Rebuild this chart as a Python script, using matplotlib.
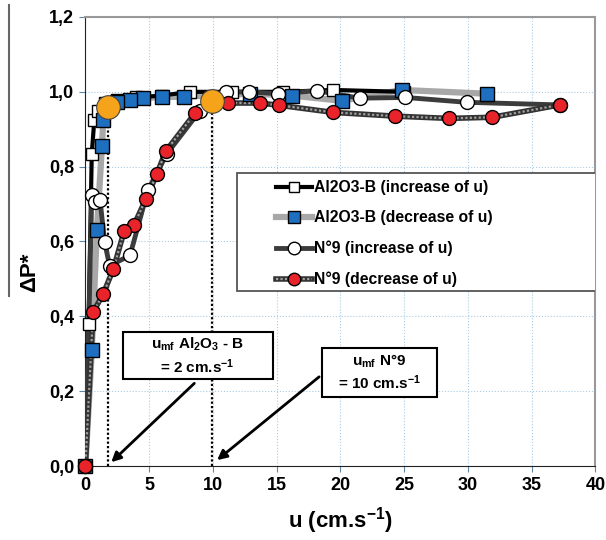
import matplotlib
matplotlib.use('Agg')
import matplotlib.pyplot as plt
from matplotlib.lines import Line2D
from matplotlib.patches import Rectangle
from matplotlib.legend_handler import HandlerTuple
from matplotlib.ticker import MultipleLocator, FuncFormatter

plt.rcParams['font.family'] = ['Liberation Sans', 'DejaVu Sans']
plt.rcParams['font.weight'] = 'bold'
plt.rcParams['mathtext.fontset'] = 'custom'
plt.rcParams['mathtext.rm'] = 'Liberation Sans:bold'
plt.rcParams['mathtext.it'] = 'Liberation Sans:bold'
plt.rcParams['mathtext.bf'] = 'Liberation Sans:bold'

# Al2O3-B, increase of u
al_inc_u = [0, 0.25, 0.5, 0.7, 1.0, 1.5, 2.5, 4.0, 6.0, 8.2, 11.5, 15.5, 19.4, 25.0]
al_inc_p = [0, 0.38, 0.835, 0.925, 0.95, 0.97, 0.978, 0.985, 0.99, 1.0, 1.0, 1.0, 1.005, 1.0]
# Al2O3-B, decrease of u
al_dec_u = [31.5, 24.8, 20.1, 16.2, 12.9, 7.7, 6.0, 4.5, 3.5, 2.45, 1.4, 1.3, 0.9, 0.5, 0]
al_dec_p = [0.995, 1.005, 0.976, 0.99, 0.995, 0.987, 0.986, 0.983, 0.978, 0.974, 0.925, 0.856, 0.63, 0.31, 0]
# N9, increase of u
n9_inc_u = [0, 0.5, 0.75, 1.15, 1.5, 1.9, 3.5, 4.9, 6.4, 9.0, 11.0, 12.8, 15.1, 18.2, 21.5, 25.1, 29.9, 37.2]
n9_inc_p = [0, 0.723, 0.705, 0.71, 0.60, 0.535, 0.563, 0.737, 0.835, 0.95, 0.999, 1.0, 0.995, 1.003, 0.983, 0.985, 0.972, 0.965]
# N9, decrease of u
n9_dec_u = [37.2, 31.9, 28.5, 24.3, 19.45, 15.2, 13.7, 11.2, 8.6, 6.3, 5.6, 4.75, 3.8, 3.05, 2.2, 1.4, 0.6, 0]
n9_dec_p = [0.965, 0.932, 0.929, 0.935, 0.945, 0.964, 0.97, 0.97, 0.943, 0.841, 0.78, 0.714, 0.643, 0.629, 0.527, 0.46, 0.411, 0]
# minimum fluidisation points
umf_u = [1.75, 9.9]
umf_p = [0.96, 0.976]

fig = plt.figure(figsize=(6.06, 5.4), dpi=100)
ax = fig.add_axes([85.4 / 606, 1 - 466 / 540, 510 / 606, 449 / 540])
ax.set_xlim(0, 40)
ax.set_ylim(0, 1.2)

ax.grid(True, color='#a9cbe3', linestyle=':', linewidth=0.8)
ax.set_axisbelow(True)
ax.xaxis.set_major_locator(MultipleLocator(5))
ax.yaxis.set_major_locator(MultipleLocator(0.2))
ax.yaxis.set_major_formatter(FuncFormatter(lambda v, p: ('%.1f' % v).replace('.', ',')))
ax.tick_params(direction='out', length=4, color='#5f86a8', labelsize=13, pad=4)
for t in ax.get_xticklabels() + ax.get_yticklabels():
    t.set_fontweight('bold')
ax.spines['left'].set_color('#222222')
ax.spines['bottom'].set_color('#222222')
ax.spines['top'].set_color('#999999')
ax.spines['right'].set_color('#999999')
ax.spines['top'].set_linewidth(1.5)
ax.spines['right'].set_linewidth(1.5)

# dotted umf lines
ax.plot([umf_u[0], umf_u[0]], [0, umf_p[0]], color='black', lw=1.6, ls=(0, (1, 1)), zorder=2)
ax.plot([umf_u[1], umf_u[1]], [0, umf_p[1]], color='black', lw=1.6, ls=(0, (1, 1)), zorder=2)

# lines
l2, = ax.plot(al_dec_u, al_dec_p, color='#a8a8a8', lw=4.5, zorder=3)
l1, = ax.plot(al_inc_u, al_inc_p, color='black', lw=3, zorder=3.2)
l3, = ax.plot(n9_inc_u, n9_inc_p, color='#3c3c3c', lw=3.5, zorder=3.4)
l4a, = ax.plot(n9_dec_u, n9_dec_p, color='#333333', lw=4, zorder=3.6)
l4b, = ax.plot(n9_dec_u, n9_dec_p, color='#a0a0a0', lw=1.6, ls=(0, (1, 1)), zorder=3.7)

# markers
m1, = ax.plot(al_inc_u, al_inc_p, ls='none', marker='s', ms=8, mfc='white', mec='black', mew=1,
              zorder=4, clip_on=False)
m2, = ax.plot(al_dec_u, al_dec_p, ls='none', marker='s', ms=9.5, mfc='#1f6fc0', mec='black', mew=1,
              zorder=4.2, clip_on=False)
m3, = ax.plot(n9_inc_u, n9_inc_p, ls='none', marker='o', ms=10, mfc='white', mec='black', mew=1,
              zorder=4.4, clip_on=False)
m4, = ax.plot(n9_dec_u, n9_dec_p, ls='none', marker='o', ms=10, mfc='#e8232a', mec='black', mew=1,
              zorder=4.6, clip_on=False)
ax.plot(umf_u, umf_p, ls='none', marker='o', ms=17, mfc='#f5a31a', mec='#444444', mew=0.8, zorder=5)

# legend
ax.add_patch(Rectangle((11.9, 0.468), 35.3, 0.315, transform=ax.transData, fc='white',
                       ec='#555555', lw=1.3, zorder=6))
leg = ax.legend([(l1, m1), (l2, m2), (l3, m3), (l4a, l4b, m4)],
                ['Al2O3-B (increase of u)', 'Al2O3-B (decrease of u)',
                 'N°9 (increase of u)', 'N°9 (decrease of u)'],
                handler_map={tuple: HandlerTuple(ndivide=1, pad=0)},
                loc='upper left', bbox_to_anchor=((276 - 85.4) / 510, (466 - 180) / 449),
                frameon=False, prop={'weight': 'bold', 'size': 11.3},
                handlelength=2.3, handletextpad=0.1, labelspacing=0.98,
                borderpad=0, borderaxespad=0, markerscale=0.9)
leg.set_zorder(7)

# annotation boxes
ax.add_patch(Rectangle((2.95, 0.2325), 11.75, 0.1255, fc='white', ec='black', lw=1.5, zorder=6))
ax.text(8.8, 0.295, 'u$_{mf}$ Al$_2$O$_3$ - B\n= 2 cm.s$^{-1}$', ha='center', va='center',
        fontsize=11, fontweight='bold', linespacing=1.25, zorder=7)
ax.add_patch(Rectangle((18.55, 0.184), 9.0, 0.131, fc='white', ec='black', lw=1.5, zorder=6))
ax.text(23.05, 0.25, 'u$_{mf}$ N°9\n= 10 cm.s$^{-1}$', ha='center', va='center',
        fontsize=11, fontweight='bold', linespacing=1.25, zorder=7)
ax.annotate('', xy=(1.87, 0.005), xytext=(8.7, 0.226),
            arrowprops=dict(arrowstyle='-|>', color='black', lw=2, mutation_scale=14), zorder=7)
ax.annotate('', xy=(10.16, 0.011), xytext=(18.5, 0.243),
            arrowprops=dict(arrowstyle='-|>', color='black', lw=2, mutation_scale=14), zorder=7)

# axis labels
fig.text(340 / 606, 1 - 521 / 540, 'u (cm.s$^{-1}$)', ha='center', va='center',
         fontsize=16, fontweight='bold')
fig.text(30 / 606, 1 - 272 / 540, 'ΔP*', ha='center', va='center', rotation=90,
         fontsize=16, fontweight='bold')
fig.add_artist(Line2D([9 / 606, 9 / 606], [1 - 5 / 540, 1 - 296 / 540],
                      transform=fig.transFigure, color='#666666', lw=1.5))

fig.savefig('out.png', dpi=100)
